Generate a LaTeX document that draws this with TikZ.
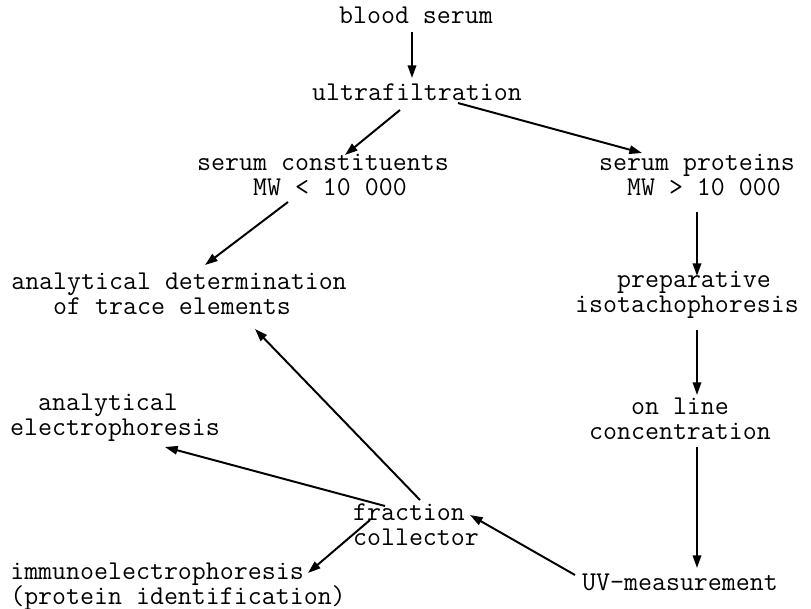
\documentclass[tikz,border=0pt]{standalone}
\usepackage{fontspec}
\usetikzlibrary{arrows.meta,calc}
% leading spaces of a typed line, in characters
\newcommand{\ind}[1]{\hspace*{#1\fontcharwd\font48}}

\begin{document}
\begin{tikzpicture}[x=0.025cm,y=-0.025cm,
  lbl/.style={font=\ttfamily\fontsize{19.3}{17.8}\selectfont\addfontfeatures{FakeBold=1}, align=left, inner sep=0pt},
  arr/.style={-{Stealth[length=9pt,width=6pt,inset=0pt]}, line width=1.4pt}]

\useasboundingbox (0,0) rectangle (811,608);

\node [lbl] (blood) at (416,15) {blood serum};
\node [lbl] (ultra) at (417,92) {ultrafiltration};
\node [lbl] (const) at (323,175) {serum constituents\\\ind{4}MW < 10 000};
\node [lbl] (prot) at (697,175) {serum proteins\\\ind{2}MW > 10 000};
\node [lbl] (trace) at (179,294) {analytical determination\\\ind{3}of trace elements};
\node [lbl] (isota) at (687,295) {\ind{3}preparative\\isotachophoresis};
\node [lbl] (online) at (680,419) {\ind{3}on line\\concentration};
\node [lbl] (electro) at (115,418) {\ind{2}analytical\\electrophoresis};
\node [lbl] (fraction) at (416,525) {fraction\\collector};
\node [lbl] (uv) at (680,582) {UV-measurement};
\node [lbl] (immuno) at (178,587) {immunoelectrophoresis\\(protein identification)};

% main line
\draw [arr] ($(blood)+(-4,17)$) -- ($(ultra)+(-5,-14)$);
\draw [arr] ($(ultra)+(-17,18)$) -- ($(const)+(22,-20)$);
\draw [arr] ($(ultra)+(41,11)$) -- ($(prot)+(-55,-22)$);
\draw [arr] ($(const)+(-35,27)$) -- ($(trace)+(26,-29)$);

% right column
\draw [arr] ($(prot)+(0,37)$) -- ($(isota)+(10,-19)$);
\draw [arr] ($(isota)+(10,35)$) -- ($(online)+(17,-24)$);
\draw [arr] ($(online)+(17,28)$) -- ($(uv)+(17,-14)$);
\draw [arr] ($(uv)+(-105,-7)$) -- ($(fraction)+(54,-10)$);

% from the fraction collector
\draw [arr] ($(fraction)+(4,-25)$) -- ($(trace)+(76,35)$);
\draw [arr] ($(fraction)+(-31,-19)$) -- ($(electro)+(50,29)$);
\draw [arr] ($(fraction)+(-46,-5)$) -- ($(immuno)+(130,-14)$);

\end{tikzpicture}
\end{document}
